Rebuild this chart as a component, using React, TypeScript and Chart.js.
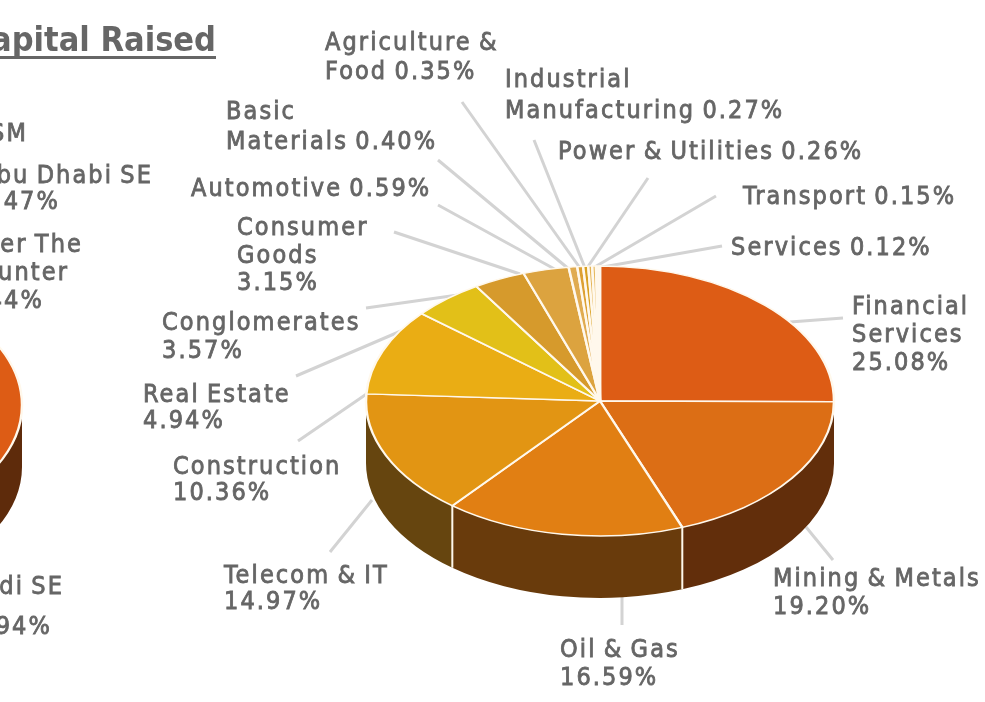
import React, { useEffect, useRef } from "react";
import { Chart, registerables } from "chart.js";

Chart.register(...registerables);

const sectors = ["Financial Services", "Mining & Metals", "Oil & Gas", "Telecom & IT", "Construction", "Real Estate", "Conglomerates", "Consumer Goods", "Automotive", "Basic Materials", "Agriculture & Food", "Industrial Manufacturing", "Power & Utilities", "Transport", "Services"];
const sectorShares = [25.08, 19.2, 16.59, 14.97, 10.36, 4.94, 3.57, 3.15, 0.59, 0.4, 0.35, 0.27, 0.26, 0.15, 0.12];
const sectorColors = ["#DD5C15", "#DC6E15", "#E17F13", "#E29513", "#EAAD14", "#E2C018", "#D69A2C", "#DCA33F", "#E0AB50", "#DDA032", "#D9A020", "#E3B252", "#E6B95F", "#E8C070", "#EBC880"];
const sectorWalls = ["#5E2B0B", "#622E0B", "#693B0C", "#66450F", "#66450F", "#66450F", "#66450F", "#66450F", "#66450F", "#66450F", "#66450F", "#66450F", "#66450F", "#66450F", "#66450F"];

const exchanges = ["Saudi SE", "Abu Dhabi SE", "Over The Counter", "MSM"];
const exchangeShares = [64.94, 4.47, 2.44, 28.15];
const exchangeColors = ["#DD5C15", "#DC6E15", "#E17F13", "#E29513"];
const exchangeWalls = ["#5E2B0B", "#622E0B", "#693B0C", "#66450F"];

const TEXT = "#666666";
const FONT = '25px "DejaVu Sans Condensed"';
const SQUASH = 135 / 234;
const DEPTH = 62;

type Callout = { x: number; y: number; step: number; lines: string[]; inline: boolean; from: number[]; to: number[] };

const callouts: Callout[] = [
  { x: 852, y: 314, step: 28, lines: ["Financial", "Services"], inline: false, from: [790, 322], to: [843, 318] },
  { x: 773, y: 586, step: 28, lines: ["Mining & Metals"], inline: false, from: [806, 527], to: [833, 560] },
  { x: 560, y: 657, step: 28, lines: ["Oil & Gas"], inline: false, from: [622, 595], to: [622, 625] },
  { x: 224, y: 583, step: 26, lines: ["Telecom & IT"], inline: false, from: [372, 500], to: [330, 552] },
  { x: 173, y: 474, step: 26, lines: ["Construction"], inline: false, from: [368, 393], to: [298, 441] },
  { x: 143, y: 402, step: 26, lines: ["Real Estate"], inline: false, from: [415, 325], to: [296, 376] },
  { x: 162, y: 330, step: 28, lines: ["Conglomerates"], inline: false, from: [465, 294], to: [366, 308] },
  { x: 237, y: 235, step: 27.5, lines: ["Consumer", "Goods"], inline: false, from: [520, 274], to: [394, 232] },
  { x: 191, y: 196, step: 28, lines: ["Automotive"], inline: true, from: [560, 272], to: [438, 205] },
  { x: 226, y: 119, step: 30, lines: ["Basic", "Materials"], inline: true, from: [570, 270], to: [438, 160] },
  { x: 325, y: 50, step: 29, lines: ["Agriculture &", "Food"], inline: true, from: [580, 268], to: [462, 102] },
  { x: 505, y: 87, step: 31, lines: ["Industrial", "Manufacturing"], inline: true, from: [585, 268], to: [534, 140] },
  { x: 558, y: 159, step: 28, lines: ["Power & Utilities"], inline: true, from: [587, 268], to: [648, 178] },
  { x: 743, y: 204, step: 28, lines: ["Transport"], inline: true, from: [593, 268], to: [716, 196] },
  { x: 731, y: 255, step: 28, lines: ["Services"], inline: true, from: [597, 268], to: [722, 246] },
];

const pct = (v: number) => v.toFixed(2) + "%";

function drawWalls(chart: any, walls: string[]) {
  const ctx: CanvasRenderingContext2D = chart.ctx;
  const arcs = chart.getDatasetMeta(0).data as any[];
  arcs.forEach((arc, i) => {
    const a = Math.max(arc.startAngle, 0);
    const b = Math.min(arc.endAngle, Math.PI);
    if (b <= a) return;
    const rx = arc.outerRadius;
    const ry = rx * SQUASH;
    ctx.beginPath();
    ctx.ellipse(arc.x, arc.y, rx, ry, 0, a, b);
    ctx.ellipse(arc.x, arc.y + DEPTH, rx, ry, 0, b, a, true);
    ctx.closePath();
    ctx.fillStyle = walls[i];
    ctx.fill();
  });
  arcs.forEach((arc) => {
    const t = arc.startAngle;
    if (t <= 0.01 || t >= Math.PI) return;
    const px = arc.x + arc.outerRadius * Math.cos(t);
    const py = arc.y + arc.outerRadius * SQUASH * Math.sin(t);
    ctx.beginPath();
    ctx.moveTo(px, py);
    ctx.lineTo(px, py + DEPTH);
    ctx.strokeStyle = "#FFF8EC";
    ctx.lineWidth = 2;
    ctx.stroke();
  });
}

function pie3d(walls: string[]) {
  return {
    id: "pie3d",
    beforeDatasetsDraw(chart: any) {
      const ctx: CanvasRenderingContext2D = chart.ctx;
      const arc = chart.getDatasetMeta(0).data[0] as any;
      drawWalls(chart, walls);
      ctx.save();
      ctx.translate(arc.x, arc.y);
      ctx.scale(1, SQUASH);
      ctx.translate(-arc.x, -arc.y);
    },
    afterDatasetsDraw(chart: any) {
      chart.ctx.restore();
    },
  };
}

const calloutPlugin = {
  id: "callouts",
  beforeDatasetsDraw(chart: any) {
    const ctx: CanvasRenderingContext2D = chart.ctx;
    ctx.save();
    ctx.strokeStyle = "#D3D3D3";
    ctx.lineWidth = 3;
    callouts.forEach((c) => {
      ctx.beginPath();
      ctx.moveTo(c.from[0], c.from[1]);
      ctx.lineTo(c.to[0], c.to[1]);
      ctx.stroke();
    });
    ctx.restore();
  },
  afterDraw(chart: any) {
    const ctx: CanvasRenderingContext2D = chart.ctx;
    ctx.save();
    (ctx as any).filter = "blur(0.6px)";
    (ctx as any).letterSpacing = "2.1px";
    (ctx as any).wordSpacing = "-2px";
    ctx.fillStyle = TEXT;
    ctx.strokeStyle = TEXT;
    ctx.lineWidth = 0.8;
    ctx.font = FONT;
    ctx.textBaseline = "alphabetic";
    ctx.textAlign = "left";
    const put = (t: string, x: number, y: number) => {
      ctx.fillText(t, x, y);
      ctx.strokeText(t, x, y);
    };
    callouts.forEach((c, i) => {
      const lines = c.lines.slice();
      if (c.inline) lines[lines.length - 1] += " " + pct(sectorShares[i]);
      else lines.push(pct(sectorShares[i]));
      lines.forEach((t, k) => put(t, c.x, c.y + k * c.step));
    });
    ctx.textAlign = "right";
    put(exchanges[3], 28, 141);
    put(exchanges[1], 153, 183);
    put(pct(exchangeShares[1]), 60, 209);
    put("Over The", 83, 252);
    put("Counter", 69, 280);
    put(pct(exchangeShares[2]), 44, 308);
    put(exchanges[0], 64, 594);
    put(pct(exchangeShares[0]), 52, 634);
    (ctx as any).letterSpacing = "0px";
    (ctx as any).wordSpacing = "0px";
    ctx.fillStyle = "#666666";
    ctx.font = 'bold 34px "DejaVu Sans Condensed"';
    ctx.fillText("Capital Raised", 216, 51);
    ctx.fillRect(-10, 56, 226, 3);
    ctx.restore();
  },
};

function makePie(canvas: HTMLCanvasElement, labels: string[], data: number[], colors: string[], padding: any, plugins: any[]) {
  return new Chart(canvas, {
    type: "pie",
    data: { labels, datasets: [{ data, backgroundColor: colors, borderColor: "#FFF8EC", borderWidth: 2.5 }] },
    options: {
      animation: false,
      responsive: false,
      radius: 234,
      layout: { padding },
      plugins: { legend: { display: false }, tooltip: { enabled: false }, title: { display: false } },
    } as any,
    plugins,
  });
}

export default function App() {
  const leftRef = useRef<HTMLCanvasElement>(null);
  const mainRef = useRef<HTMLCanvasElement>(null);

  useEffect(() => {
    const left = makePie(leftRef.current!, exchanges, exchangeShares, exchangeColors, { left: 10, right: 10, top: 165, bottom: 57 }, [pie3d(exchangeWalls)]);
    const main = makePie(mainRef.current!, sectors, sectorShares, sectorColors, { left: 360, right: 145, top: 161, bottom: 61 }, [calloutPlugin, pie3d(sectorWalls)]);
    return () => {
      left.destroy();
      main.destroy();
    };
  }, []);

  return (
    <div style={{ position: "fixed", left: 0, top: 0, width: 985, height: 702, overflow: "hidden", background: "#fff" }}>
      <canvas ref={leftRef} width={500} height={702} style={{ position: "absolute", left: -462, top: 0, display: "block" }} />
      <canvas ref={mainRef} width={985} height={702} style={{ position: "absolute", left: 0, top: 0, display: "block" }} />
    </div>
  );
}
